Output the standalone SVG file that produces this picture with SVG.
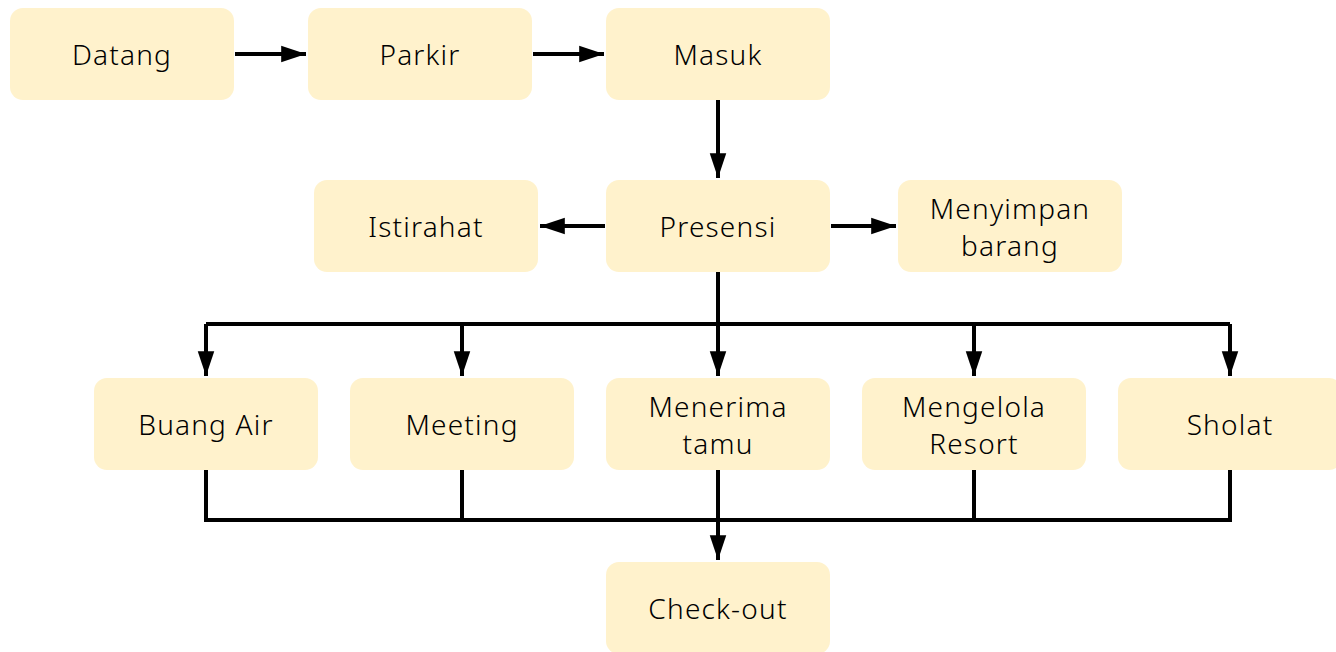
<svg xmlns="http://www.w3.org/2000/svg" width="1336" height="652" viewBox="0 0 1336 652">
  <style>
    .box { fill: #fff2cc; }
    .lbl { font-family: "Noto Sans", "DejaVu Sans", sans-serif; font-size: 28px; font-weight: 300; letter-spacing: 1.2px; fill: #000; text-anchor: middle; dominant-baseline: central; }
    .ln { fill: none; stroke: #000; stroke-width: 4; stroke-linejoin: miter; }
    .arr { marker-end: url(#head); }
  </style>
  <defs>
    <marker id="head" viewBox="0 0 12 8" refX="12" refY="4" markerWidth="6.2" markerHeight="4.4" orient="auto" markerUnits="strokeWidth">
      <path d="M0,0 L12,4 L0,8 Z" fill="#000"/>
    </marker>
  </defs>
  <rect width="1336" height="652" fill="#fff"/>

  <g id="connectors">
    <path class="ln arr" d="M235,54 H306"/>
    <path class="ln arr" d="M533,54 H604"/>
    <path class="ln arr" d="M718,100 V178"/>
    <path class="ln arr" d="M605,226 H540"/>
    <path class="ln arr" d="M831,226 H896"/>
    <path class="ln" d="M718,272 V324"/>
    <path class="ln" d="M206,324 H1230"/>
    <path class="ln arr" d="M206,324 V376"/>
    <path class="ln arr" d="M462,324 V376"/>
    <path class="ln arr" d="M718,324 V376"/>
    <path class="ln arr" d="M974,324 V376"/>
    <path class="ln arr" d="M1230,324 V376"/>
    <path class="ln" d="M206,470 V520 H1230 V470"/>
    <path class="ln" d="M462,470 V520"/>
    <path class="ln" d="M974,470 V520"/>
    <path class="ln arr" d="M718,470 V560"/>
  </g>

  <g id="datang"><rect class="box" x="10" y="8" width="224" height="92" rx="13"/><text class="lbl" x="122" y="54">Datang</text></g>
  <g id="parkir"><rect class="box" x="308" y="8" width="224" height="92" rx="13"/><text class="lbl" x="420" y="54">Parkir</text></g>
  <g id="masuk"><rect class="box" x="606" y="8" width="224" height="92" rx="13"/><text class="lbl" x="718" y="54">Masuk</text></g>
  <g id="presensi"><rect class="box" x="606" y="180" width="224" height="92" rx="13"/><text class="lbl" x="718" y="226">Presensi</text></g>
  <g id="istirahat"><rect class="box" x="314" y="180" width="224" height="92" rx="13"/><text class="lbl" x="426" y="226">Istirahat</text></g>
  <g id="menyimpan"><rect class="box" x="898" y="180" width="224" height="92" rx="13"/><text class="lbl" x="1010" y="208">Menyimpan</text><text class="lbl" x="1010" y="245">barang</text></g>
  <g id="buang-air"><rect class="box" x="94" y="378" width="224" height="92" rx="13"/><text class="lbl" x="206" y="424">Buang Air</text></g>
  <g id="meeting"><rect class="box" x="350" y="378" width="224" height="92" rx="13"/><text class="lbl" x="462" y="424">Meeting</text></g>
  <g id="menerima-tamu"><rect class="box" x="606" y="378" width="224" height="92" rx="13"/><text class="lbl" x="718" y="406">Menerima</text><text class="lbl" x="718" y="443">tamu</text></g>
  <g id="mengelola-resort"><rect class="box" x="862" y="378" width="224" height="92" rx="13"/><text class="lbl" x="974" y="406">Mengelola</text><text class="lbl" x="974" y="443">Resort</text></g>
  <g id="sholat"><rect class="box" x="1118" y="378" width="224" height="92" rx="13"/><text class="lbl" x="1230" y="424">Sholat</text></g>
  <g id="check-out"><rect class="box" x="606" y="562" width="224" height="92" rx="13"/><text class="lbl" x="718" y="608">Check-out</text></g>
</svg>
